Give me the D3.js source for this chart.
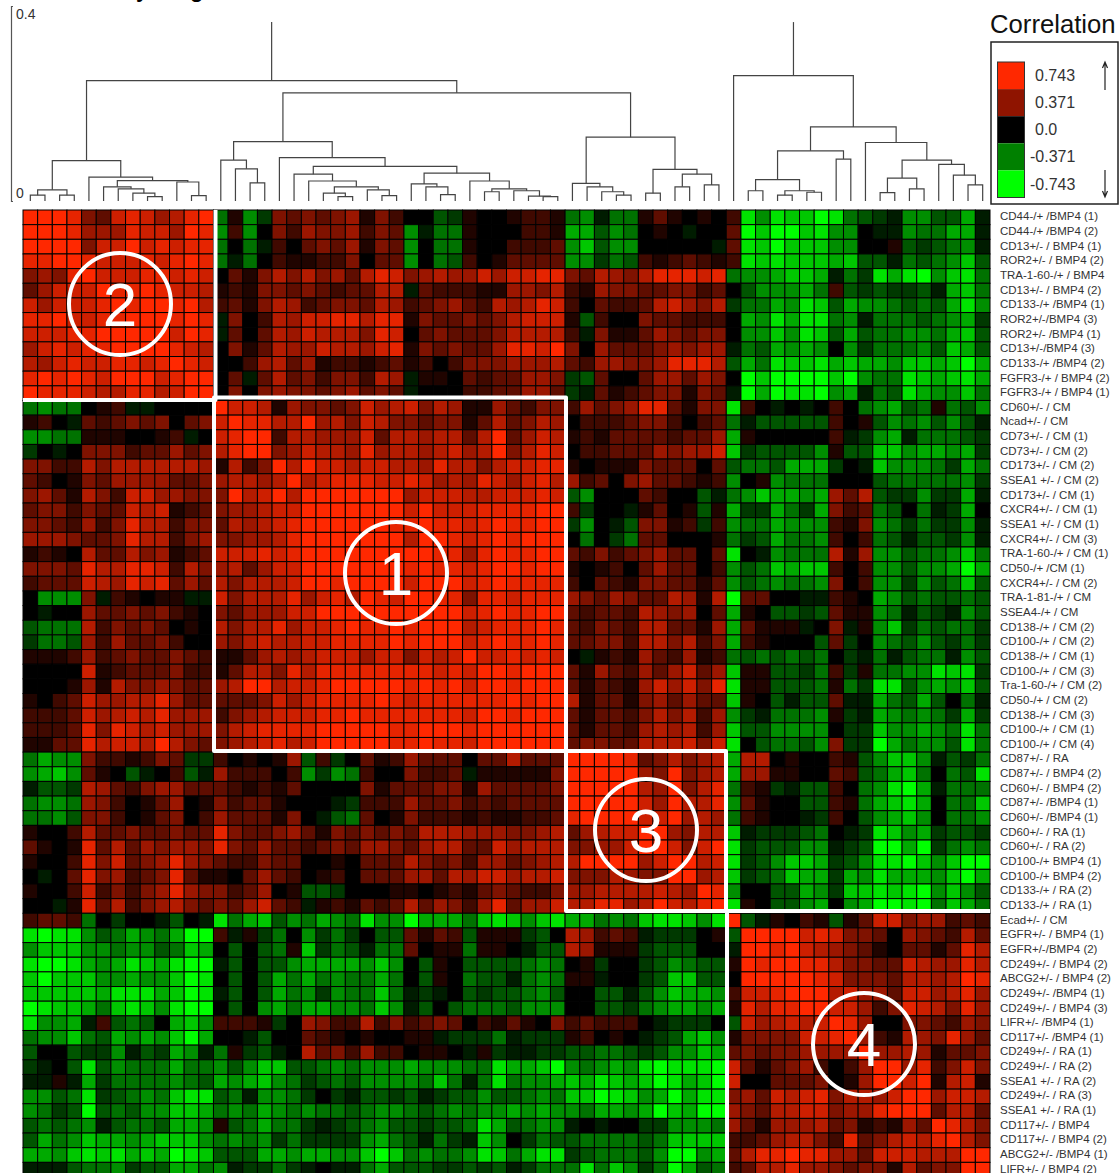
<!DOCTYPE html>
<html>
<head>
<meta charset="utf-8">
<script src="https://cdn.jsdelivr.net/npm/d3@7"></script>
<style>
  html, body { margin: 0; padding: 0; background: #fff; overflow: hidden; }
  text { font-family: "Liberation Sans", Arial, sans-serif; }
</style>
</head>
<body>
<div id="chart"></div>
<script>
// Sample labels, same order on rows and columns
var labels = [
  "CD44-/+ /BMP4 (1)", "CD44-/+ /BMP4 (2)", "CD13+/- / BMP4 (1)", "ROR2+/- / BMP4 (2)", "TRA-1-60-/+ / BMP4",
  "CD13+/- / BMP4 (2)", "CD133-/+ /BMP4 (1)", "ROR2+/-/BMP4 (3)", "ROR2+/- /BMP4 (1)", "CD13+/-/BMP4 (3)",
  "CD133-/+ /BMP4 (2)", "FGFR3-/+ / BMP4 (2)", "FGFR3-/+ / BMP4 (1)",
  "CD60+/- / CM", "Ncad+/- / CM", "CD73+/- / CM (1)", "CD73+/- / CM (2)", "CD173+/- / CM (2)", "SSEA1 +/- / CM (2)",
  "CD173+/- / CM (1)", "CXCR4+/- / CM (1)", "SSEA1 +/- / CM (1)", "CXCR4+/- / CM (3)", "TRA-1-60-/+ / CM (1)",
  "CD50-/+ /CM (1)", "CXCR4+/- / CM (2)", "TRA-1-81-/+ / CM", "SSEA4-/+ / CM", "CD138-/+ / CM (2)", "CD100-/+ / CM (2)",
  "CD138-/+ / CM (1)", "CD100-/+ / CM (3)", "Tra-1-60-/+ / CM (2)", "CD50-/+ / CM (2)", "CD138-/+ / CM (3)",
  "CD100-/+ / CM (1)", "CD100-/+ / CM (4)",
  "CD87+/- / RA", "CD87+/- / BMP4 (2)", "CD60+/- / BMP4 (2)", "CD87+/- /BMP4 (1)", "CD60+/- /BMP4 (1)", "CD60+/- / RA (1)",
  "CD60+/- / RA (2)", "CD100-/+ BMP4 (1)", "CD100-/+ BMP4 (2)", "CD133-/+ / RA (2)", "CD133-/+ / RA (1)",
  "Ecad+/- / CM", "EGFR+/- / BMP4 (1)", "EGFR+/-/BMP4 (2)", "CD249+/- / BMP4 (2)", "ABCG2+/- / BMP4 (2)", "CD249+/- /BMP4 (1)",
  "CD249+/- / BMP4 (3)", "LIFR+/- /BMP4 (1)", "CD117+/- /BMP4 (1)", "CD249+/- / RA (1)", "CD249+/- / RA (2)", "SSEA1 +/- / RA (2)",
  "CD249+/- / RA (3)", "SSEA1 +/- / RA (1)", "CD117+/- / BMP4", "CD117+/- / BMP4 (2)", "ABCG2+/- /BMP4 (1)", "LIFR+/- / BMP4 (2)"
];

// Upper triangle of the correlation matrix, row r starts at column r.
// 0-9 are positive levels, a-i are negative levels -1 to -9. Spaces only group columns.
var upperRows = [
  "9998437875689 d1eb43434 514200cb1001221deadd13 1010 2hehggihdcbaeeccfa",
  "998555877598 e2e042544 5243eadd1000221ffced01 0a00 3igiighee0aaeddffa",
  "99477978788 d0da20343 5143e0dd1002223egcee00 000a 3hgigggee001cbcdea",
  "9877787898 dad021122 4033e0dc2013333eebdc21 2321 2hghgggfgccadcdegc",
  "977788787 031464645 3687456557577884365468 8878 deefggfadbhfhieghd",
  "98898776 121443432 3366a32221155462154433 4423 0ceeefd2cbcbbcafgd",
  "9899896 231465234 4365234532656872032236 7546 bddfehgcfeedcdcfhe",
  "999898 a40265778 8688143343467771c20043 3222 0fehfhhdeadddcdefb",
  "99798 a30365766 6487034333466662a41135 4344 0eegehgcfcddeedfgc",
  "9876 041365576 6578143433588794053334 5455 adcfefe0ebdddecgfc",
  "987 002563512 2123120244455563255445 8886 cfdhgghfgffeggfgif",
  "99 03a363424 4265a1103233554bc30035 5354 0igiiiigieddhgfghf",
  "9 040454434 5343a0002233553ba31234 4143 aifihhiefadchfeegd",
  "977615443 4756746511532442534588 3144 h20a0a020defcd1dce",
  "98866956 4764434413634650222344 2023 daccccc201cedececa",
  "9926655 5736656636935761213333 2335 f1000002abefadddcb",
  "945766 5856656756946870223335 4557 gbcccce1ccggeffefb",
  "96977 6776658664677881011143 3303 cddcfffb0ageeedbfd",
  "9678 8877875658757865230453 3212 e01eddd000cdddddeb",
  "999 999957776677787ce00032 00ca degffef536cbbebbfa",
  "99 9999797778888992b00a13 01c1 fbbfdbf423dc0dabf0",
  "9 999889887898899be0ac44 12b2 eddfeee214edbdbbea",
  "9999699878989990d0bd33 0001 dbcfdde202dcaccbea",
  "999998858988993242345 3303 h0aeddd615eecddegd",
  "99898878998991012035 3302 ecdgfgg202eeceefif",
  "9799978988882032144 3313 ecdedde402eebecdgc",
  "998848878885435433 6516 i3300aa210fecdccdc",
  "99978988993233265 4503 f10ccbc311edacbaec",
  "9967888983243266 3315 f3111a04a1egbdcddb",
  "978988983344266 4624 f21000c3b0edcecbdb",
  "97787870a12153 2512 dcdcdcd0badacddaec",
  "9989993153253 5735 g11ccbd2b1ddeehghb",
  "989993132157 5748 h11cccd1dbhhcefegc",
  "98996133145 3533 g10cacc3aafdcfc0da",
  "9993133246 4625 ebaddde1bafededbfb",
  "993133256 5625 gcceeee0bbgeefedhd",
  "93443366 6747 h0cddce4bbifdeechd",
  "9999834 6456 f66010021ceggeacbd",
  "999954 9456 f55110032cdfgd0dch",
  "99965 9468 d21bacc20dehifaddd",
  "9975 9668 e3100cc21dfghf0ddg",
  "977 9565 d2100ab20cefge0dde",
  "99 5466 gabbbcd0abhgefbccb",
  "9 7479 hbccceeabciifibded",
  "9967 hbceggfbcehhigegii",
  "956 gbcdgffbfehfffegif",
  "98 e00ccfebgghghiegec",
  "9 h10ccef0efiihidgfd",
  "9ca1021c1377455232",
  "99997874430543263",
  "9897654310331386",
  "998864433765586",
  "99874443665698",
  "9967553775685",
  "977524876485",
  "98500443254",
  "9521654853",
  "955651334",
  "99582474",
  "9791671",
  "995776",
  "93663",
  "9864",
  "964",
  "99",
  "9"
];

// Legend steps
var legendValues = [0.743, 0.371, 0, -0.371, -0.743];
var legendColors = ["#ff2800", "#8f1400", "#000000", "#008000", "#00ff00"];
var legendLabels = ["0.743", "0.371", "0.0", "-0.371", "-0.743"];

// Dendrogram merges: [height, left, right], a plain number is a column
var leftCluster = [0.083,
  [0.023, [0.012, 0, 1], [0.012, 2, 3]],
  [0.049, 4, [0.042,
    [0.029, 5, [0.025, 6, [0.016, 7, [0.009, 8, 9]]]],
    [0.039, 10, [0.011, 11, 12]]]]];
var middleCluster = [0.122,
  [0.084, 13, [0.066, 14, [0.037, 15, 16]]],
  [0.089, 17, [0.071,
    [0.055, 18, [0.041, 19, [0.029, [0.016, 20, [0.009, 21, 22]], [0.023, 23, [0.011, 24, 25]]]]],
    [0.057,
      [0.035, 26, [0.029, 27, [0.013, 28, 29]]],
      [0.041, 30, [0.025, [0.019, 31, 32], [0.021, 33, [0.010, 34, [0.009, 35, 36]]]]]]]]];
var rightOfMiddle = [0.131,
  [0.036, 37, [0.029, 38, [0.019, 39, [0.012, 40, 41]]]],
  [0.065, [0.016, 42, 43], [0.055, [0.029, 44, 45], [0.033, 46, 47]]]];
var firstTree = [0.247, leftCluster, [0.222, middleCluster, rightOfMiddle]];
var secondTree = [0.257, 48, [0.152,
  [0.103,
    [0.044, [0.021, 49, 50], [0.021, [0.012, 51, 52], [0.018, 53, 54]]],
    [0.086, 55, 56]],
  [0.120, 57, [0.084,
    [0.047, [0.017, 58, 59], [0.025, 60, 61]],
    [0.075, 62, [0.053, 63, [0.033, 64, 65]]]]]]];
var stemTop = 0.367;

var width = 1119, height = 1173;
var n = labels.length;

// Hand drawn annotations on top of the heatmap
var annotations = [
  { name: "1", cx: 396, cy: 573 },
  { name: "2", cx: 120, cy: 304 },
  { name: "3", cx: 646, cy: 830 },
  { name: "4", cx: 864, cy: 1044 }
];
var outlinePaths = [
  "M23,400H215.5V210",
  "M214,751V397.5H566V751Z",
  "M566,751H726V911H566Z",
  "M727,1173V911H990"
];

// Turn the level characters into correlation values and mirror them
function levelOf(ch) {
  var neg = "abcdefghi".indexOf(ch);
  return neg >= 0 ? -(neg + 1) : +ch;
}
var matrix = [];
upperRows.forEach(function(row, r) {
  var chars = row.replace(/ /g, "");
  if (chars.length !== n - r) throw new Error("row " + r + " has " + chars.length);
  chars.split("").forEach(function(ch, k) {
    var value = levelOf(ch) / 9 * 0.743;
    matrix.push({ row: r, col: r + k, value: value });
    if (k > 0) matrix.push({ row: r + k, col: r, value: value });
  });
});

// Scales
var x = d3.scaleBand().domain(d3.range(n)).range([23, 990]);
var y = d3.scaleBand().domain(d3.range(n)).range([210, 210 + 967]);
var color = d3.scaleLinear().domain(legendValues).range(legendColors).clamp(true);
var h = d3.scaleLinear().domain([0, 0.4]).range([201, 6]);

var svg = d3.select("#chart")
  .append("svg")
    .attr("width", width)
    .attr("height", height)
    .style("display", "block");

// Tail ends of the cropped heading
svg.append("text").attr("x", 136).attr("y", -3).attr("font-size", 22).attr("font-weight", "bold").text("y");
svg.append("text").attr("x", 190).attr("y", -3).attr("font-size", 22).attr("font-weight", "bold").text("g");

// Heatmap cells
svg.append("g").selectAll("rect")
  .data(matrix)
  .enter().append("rect")
    .attr("x", function(d) { return x(d.col); })
    .attr("y", function(d) { return y(d.row); })
    .attr("width", x.bandwidth())
    .attr("height", y.bandwidth())
    .attr("fill", function(d) { return color(d.value); })
    .attr("stroke", "#000")
    .attr("stroke-width", 1);

// Row labels
svg.append("g").selectAll("text")
  .data(labels)
  .enter().append("text")
    .attr("x", 1000)
    .attr("y", function(d, i) { return y(i) + y.bandwidth() / 2 - 1; })
    .attr("dy", "0.35em")
    .attr("font-size", 11.5)
    .attr("fill", "#333")
    .text(function(d) { return d; });

// Dendrogram, each node is centred over its two children
var dendro = svg.append("g")
  .attr("fill", "none")
  .attr("stroke", "#444")
  .attr("stroke-width", 1.2);

function drawNode(node) {
  if (typeof node === "number") return { px: x(node) + x.bandwidth() / 2, top: h(0) };
  var a = drawNode(node[1]), b = drawNode(node[2]);
  var top = h(node[0]);
  dendro.append("path")
    .attr("d", "M" + a.px + "," + a.top + "V" + top + "H" + b.px + "V" + b.top);
  return { px: (a.px + b.px) / 2, top: top };
}
[firstTree, secondTree].forEach(function(tree) {
  var root = drawNode(tree);
  dendro.append("path").attr("d", "M" + root.px + "," + root.top + "V" + h(stemTop));
});

// Dendrogram height axis
var axis = svg.append("g")
  .attr("transform", "translate(11,0)")
  .call(d3.axisRight(h).tickValues([0, 0.4]).tickSize(2).tickFormat(function(d) { return d === 0 ? "0" : "0.4"; }));
axis.select(".domain").attr("stroke", "#555").attr("stroke-width", 1.2);
axis.selectAll(".tick line").attr("stroke", "#555");
axis.selectAll(".tick text")
  .attr("x", 5)
  .attr("font-size", 14)
  .attr("font-family", "Liberation Sans")
  .attr("fill", "#333")
  .attr("dy", function(d) { return d === 0 ? "-0.25em" : "0.92em"; });

// White block outlines and numbered circles
var outline = svg.append("g")
  .attr("fill", "none")
  .attr("stroke", "#fff")
  .attr("stroke-width", 4)
  .attr("stroke-linejoin", "round");
outlinePaths.forEach(function(d) { outline.append("path").attr("d", d); });
annotations.forEach(function(b) {
  outline.append("circle").attr("cx", b.cx).attr("cy", b.cy).attr("r", 51);
  svg.append("text")
    .attr("x", b.cx)
    .attr("y", b.cy + 22)
    .attr("text-anchor", "middle")
    .attr("font-size", 62)
    .attr("fill", "#fff")
    .text(b.name);
});

// Legend
svg.append("text").attr("x", 990).attr("y", 33).attr("font-size", 25.7).attr("fill", "#111").text("Correlation");
svg.append("rect")
  .attr("x", 991).attr("y", 42).attr("width", 127).attr("height", 162)
  .attr("fill", "#fff").attr("stroke", "#222").attr("stroke-width", 1.5);
var swatch = d3.scaleBand().domain(legendLabels).range([62, 197.5]);
svg.append("g").selectAll("rect")
  .data(legendLabels)
  .enter().append("rect")
    .attr("x", 997.5)
    .attr("y", function(d) { return swatch(d); })
    .attr("width", 27)
    .attr("height", swatch.bandwidth())
    .attr("fill", function(d, i) { return legendColors[i]; });
svg.append("rect")
  .attr("x", 997.5).attr("y", 62).attr("width", 27).attr("height", 135.5)
  .attr("fill", "none").attr("stroke", "#333");
svg.append("g").selectAll("text")
  .data(legendLabels)
  .enter().append("text")
    .attr("x", function(d) { return d[0] === "-" ? 1030 : 1035; })
    .attr("y", function(d) { return swatch(d) + swatch.bandwidth() / 2; })
    .attr("dy", "0.35em")
    .attr("font-size", 16)
    .attr("fill", "#333")
    .text(function(d) { return d; });

// Up and down arrows
svg.append("path")
  .attr("d", "M1105,90V62M1102.5,68L1105,62L1107.5,68M1105,170V197M1102.5,191L1105,197L1107.5,191")
  .attr("fill", "none").attr("stroke", "#222").attr("stroke-width", 1.2);
</script>
</body>
</html>
